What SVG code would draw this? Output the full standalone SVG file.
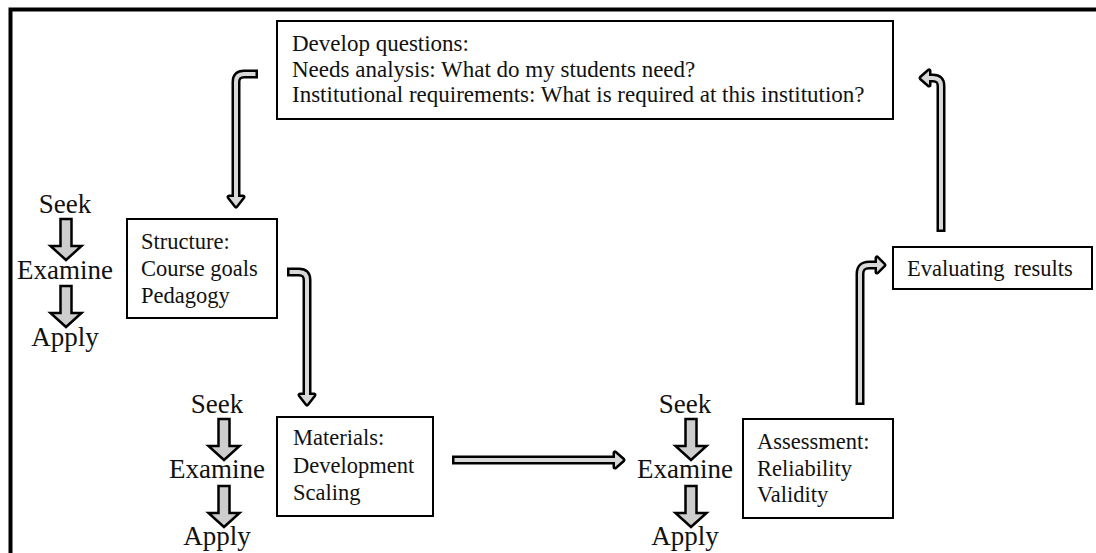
<svg xmlns="http://www.w3.org/2000/svg" xmlns:xlink="http://www.w3.org/1999/xlink" width="1096" height="553" viewBox="0 0 1096 553">
<style>
  .frame { fill: none; stroke: #000; stroke-width: 4; }
  .box { fill: #fff; stroke: #000; stroke-width: 2; }
  .t { font-family: "Liberation Serif", "Times New Roman", serif; font-size: 22.5px; fill: #111; }
  .tt { font-size: 23px; }
  .s { font-family: "Liberation Serif", "Times New Roman", serif; font-size: 27px; fill: #111; text-anchor: middle; }
  .po { fill: none; stroke: #000; stroke-width: 9; stroke-linejoin: round; }
  .pi { fill: none; stroke: #d8d8d8; stroke-width: 4; stroke-linejoin: round; }
  .ho { fill: #000; stroke: #000; stroke-width: 5; stroke-linejoin: round; }
  .hi { fill: #d8d8d8; stroke: none; }
  .blk { fill: #cdcdcd; stroke: #000; stroke-width: 2.5; stroke-linejoin: miter; }
</style>
<defs>
  <polygon id="blk" class="blk" points="-5.5,0 5.5,0 5.5,27 15.5,27 0,41 -15.5,27 -5.5,27"/>
</defs>
<rect x="0" y="0" width="1096" height="553" fill="#fff"/>
<rect class="frame" x="10.5" y="9.5" width="1100" height="600"/>

<g id="connectors">
  <g id="arrowA">
    <path class="po" d="M258,74 H244 Q236,74 236,82 V198"/>
    <polygon class="ho" points="229,197 243,197 236,206"/>
    <polygon class="hi" points="229,197 243,197 236,206"/>
    <path class="pi" d="M255.5,74 H244 Q236,74 236,82 V200"/>
  </g>
  <g id="arrowB">
    <path class="po" d="M287,272 H299 Q307,272 307,280 V396"/>
    <polygon class="ho" points="300,395 314,395 307,404"/>
    <polygon class="hi" points="300,395 314,395 307,404"/>
    <path class="pi" d="M289.5,272 H299 Q307,272 307,280 V398"/>
  </g>
  <g id="arrowE">
    <path class="po" d="M452,460 H616"/>
    <polygon class="ho" points="615,453 615,467 623,460"/>
    <polygon class="hi" points="615,453 615,467 623,460"/>
    <path class="pi" d="M454.5,460 H618"/>
  </g>
  <g id="arrowC">
    <path class="po" d="M860,405 V274 Q860,265 869,265 H878"/>
    <polygon class="ho" points="877,258 877,272 884,265"/>
    <polygon class="hi" points="877,258 877,272 884,265"/>
    <path class="pi" d="M860,402.5 V274 Q860,265 869,265 H880"/>
  </g>
  <g id="arrowD">
    <path class="po" d="M941,232 V86 Q941,78 933,78 H928"/>
    <polygon class="ho" points="929,71 929,85 921,78"/>
    <polygon class="hi" points="929,71 929,85 921,78"/>
    <path class="pi" d="M941,229.5 V86 Q941,78 933,78 H926"/>
  </g>
  <use xlink:href="#blk" href="#blk" x="66" y="219"/>
  <use xlink:href="#blk" href="#blk" x="66" y="286"/>
  <use xlink:href="#blk" href="#blk" x="224" y="419"/>
  <use xlink:href="#blk" href="#blk" x="224" y="486"/>
  <use xlink:href="#blk" href="#blk" x="691" y="419"/>
  <use xlink:href="#blk" href="#blk" x="691" y="486"/>
</g>

<g id="develop">
  <rect class="box" x="277" y="21" width="616" height="98"/>
  <text class="t tt" x="292" y="51">Develop questions:</text>
  <text class="t tt" x="292" y="77">Needs analysis: What do my students need?</text>
  <text class="t tt" x="292" y="102">Institutional requirements: What is required at this institution?</text>
</g>

<g id="sea1">
  <text class="s" x="65" y="213">Seek</text>
  <text class="s" x="65" y="279">Examine</text>
  <text class="s" x="65" y="346">Apply</text>
</g>

<g id="structure">
  <rect class="box" x="127" y="219" width="150" height="99"/>
  <text class="t" x="141" y="249">Structure:</text>
  <text class="t" x="141" y="276">Course goals</text>
  <text class="t" x="141" y="303">Pedagogy</text>
</g>

<g id="sea2">
  <text class="s" x="217" y="413">Seek</text>
  <text class="s" x="217" y="478">Examine</text>
  <text class="s" x="217" y="545">Apply</text>
</g>

<g id="materials">
  <rect class="box" x="277" y="417" width="156" height="99"/>
  <text class="t" x="293" y="445">Materials:</text>
  <text class="t" x="293" y="473">Development</text>
  <text class="t" x="293" y="500">Scaling</text>
</g>

<g id="sea3">
  <text class="s" x="685" y="413">Seek</text>
  <text class="s" x="685" y="478">Examine</text>
  <text class="s" x="685" y="545">Apply</text>
</g>

<g id="assessment">
  <rect class="box" x="743" y="419" width="150" height="99"/>
  <text class="t" x="757" y="449">Assessment:</text>
  <text class="t" x="757" y="476">Reliability</text>
  <text class="t" x="757" y="502">Validity</text>
</g>

<g id="evaluating">
  <rect class="box" x="893" y="247" width="199" height="42"/>
  <text class="t" x="907" y="276" word-spacing="4">Evaluating results</text>
</g>
</svg>
